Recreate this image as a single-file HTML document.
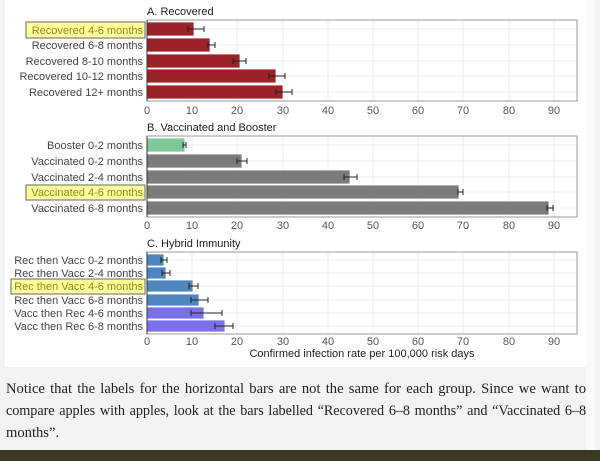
<!DOCTYPE html>
<html><head><style>
html,body{margin:0;padding:0;width:600px;height:461px;overflow:hidden;background:#f3f3f3;}
.t{font-family:"Liberation Serif",serif;font-size:14.6px;color:#222;position:absolute;left:6px;width:580px;line-height:22px;white-space:nowrap;}
.j{text-align:justify;text-align-last:justify;}
</style></head><body>
<svg width="600" height="461" style="position:absolute;left:0;top:0" font-family="Liberation Sans, sans-serif">
<rect x="5" y="0" width="581" height="367" fill="#fff"/>
<rect x="586" y="0" width="9" height="450" fill="#fafafa"/>
<rect x="0" y="450" width="600" height="11" fill="#3b3824"/>
<g font-size="11" fill="#222">
<text x="147" y="15">A. Recovered</text>
<text x="147" y="131">B. Vaccinated and Booster</text>
<text x="147" y="247">C. Hybrid Immunity</text>
</g>
<g stroke="#ececec">
<line x1="192" y1="20" x2="192" y2="101"/><line x1="237" y1="20" x2="237" y2="101"/><line x1="283" y1="20" x2="283" y2="101"/><line x1="328" y1="20" x2="328" y2="101"/><line x1="373" y1="20" x2="373" y2="101"/><line x1="418" y1="20" x2="418" y2="101"/><line x1="463" y1="20" x2="463" y2="101"/><line x1="509" y1="20" x2="509" y2="101"/><line x1="554" y1="20" x2="554" y2="101"/>
<line x1="192" y1="136" x2="192" y2="217"/><line x1="237" y1="136" x2="237" y2="217"/><line x1="283" y1="136" x2="283" y2="217"/><line x1="328" y1="136" x2="328" y2="217"/><line x1="373" y1="136" x2="373" y2="217"/><line x1="418" y1="136" x2="418" y2="217"/><line x1="463" y1="136" x2="463" y2="217"/><line x1="509" y1="136" x2="509" y2="217"/><line x1="554" y1="136" x2="554" y2="217"/>
<line x1="192" y1="252" x2="192" y2="334"/><line x1="237" y1="252" x2="237" y2="334"/><line x1="283" y1="252" x2="283" y2="334"/><line x1="328" y1="252" x2="328" y2="334"/><line x1="373" y1="252" x2="373" y2="334"/><line x1="418" y1="252" x2="418" y2="334"/><line x1="463" y1="252" x2="463" y2="334"/><line x1="509" y1="252" x2="509" y2="334"/><line x1="554" y1="252" x2="554" y2="334"/>
<line x1="147" y1="29" x2="577" y2="29"/><line x1="147" y1="45" x2="577" y2="45"/><line x1="147" y1="61" x2="577" y2="61"/><line x1="147" y1="76" x2="577" y2="76"/><line x1="147" y1="92" x2="577" y2="92"/>
<line x1="147" y1="145" x2="577" y2="145"/><line x1="147" y1="161" x2="577" y2="161"/><line x1="147" y1="177" x2="577" y2="177"/><line x1="147" y1="192" x2="577" y2="192"/><line x1="147" y1="208" x2="577" y2="208"/>
<line x1="147" y1="260" x2="577" y2="260"/><line x1="147" y1="273" x2="577" y2="273"/><line x1="147" y1="286" x2="577" y2="286"/><line x1="147" y1="300" x2="577" y2="300"/><line x1="147" y1="313" x2="577" y2="313"/><line x1="147" y1="326" x2="577" y2="326"/>
</g>
<g fill="#9b2226" stroke="#fff" stroke-width="0.8">
<rect x="147" y="22" width="47" height="14"/>
<rect x="147" y="38" width="63" height="14"/>
<rect x="147" y="54" width="93" height="14"/>
<rect x="147" y="69" width="129" height="14"/>
<rect x="147" y="85" width="136" height="14"/>
</g>
<g stroke="#fff" stroke-width="0.8">
<rect x="147" y="138" width="38" height="14" fill="#7dc99a"/>
<rect x="147" y="154" width="95" height="14" fill="#7b7b7b"/>
<rect x="147" y="170" width="203" height="14" fill="#7b7b7b"/>
<rect x="147" y="185" width="312" height="14" fill="#7b7b7b"/>
<rect x="147" y="201" width="402" height="14" fill="#7b7b7b"/>
</g>
<g stroke="#fff" stroke-width="0.8">
<rect x="147" y="254" width="17" height="12" fill="#4f86bf"/>
<rect x="147" y="267" width="19" height="12" fill="#4f86bf"/>
<rect x="147" y="280" width="46" height="12" fill="#4f86bf"/>
<rect x="147" y="294" width="52" height="12" fill="#4f86bf"/>
<rect x="147" y="307" width="57" height="12" fill="#7a70ec"/>
<rect x="147" y="320" width="78" height="12" fill="#7a70ec"/>
</g>
<g stroke="#222" stroke-width="1" fill="none">
<path d="M188 29H204M188 26V32M204 26V32"/>
<path d="M208 45H215M208 42V48M215 42V48"/>
<path d="M233 61H246M233 58V64M246 58V64"/>
<path d="M269 76H285M269 73V79M285 73V79"/>
<path d="M276 92H292M276 89V95M292 89V95"/>
<path d="M183 145H186M183 142V148M186 142V148"/>
<path d="M237 161H247M237 158V164M247 158V164"/>
<path d="M344 177H357M344 174V180M357 174V180"/>
<path d="M458 192H463M458 189V195M463 189V195"/>
<path d="M547 208H553M547 205V211M553 205V211"/>
<path d="M161 260H167M161 257V263M167 257V263"/>
<path d="M162 273H170M162 270V276M170 270V276"/>
<path d="M189 286H198M189 283V289M198 283V289"/>
<path d="M191 300H208M191 297V303M208 297V303"/>
<path d="M191 313H222M191 310V316M222 310V316"/>
<path d="M215 326H233M215 323V329M233 323V329"/>
</g>
<g fill="none" stroke="#999" stroke-width="1">
<rect x="147" y="20" width="430" height="81"/>
<rect x="147" y="136" width="430" height="81"/>
<rect x="147" y="252" width="430" height="82"/>
</g>
<g stroke="#333" stroke-width="1"><line x1="147" y1="20" x2="147" y2="101"/><line x1="147" y1="136" x2="147" y2="217"/><line x1="147" y1="252" x2="147" y2="334"/></g>
<g fill="#ffff99" stroke="#666" stroke-width="1">
<rect x="26" y="22" width="119" height="16"/>
<rect x="26" y="185" width="119" height="15"/>
<rect x="11" y="279" width="134" height="15"/>
</g>
<g font-size="11" fill="#444" text-anchor="end">
<text x="143" y="34" fill="#8a8a2a">Recovered 4-6 months</text>
<text x="143" y="49">Recovered 6-8 months</text>
<text x="143" y="65">Recovered 8-10 months</text>
<text x="143" y="80">Recovered 10-12 months</text>
<text x="143" y="96">Recovered 12+ months</text>
<text x="143" y="149">Booster 0-2 months</text>
<text x="143" y="165">Vaccinated 0-2 months</text>
<text x="143" y="181">Vaccinated 2-4 months</text>
<text x="143" y="196" fill="#8a8a2a">Vaccinated 4-6 months</text>
<text x="143" y="212">Vaccinated 6-8 months</text>
<text x="143" y="264">Rec then Vacc 0-2 months</text>
<text x="143" y="277">Rec then Vacc 2-4 months</text>
<text x="143" y="290" fill="#8a8a2a">Rec then Vacc 4-6 months</text>
<text x="143" y="304">Rec then Vacc 6-8 months</text>
<text x="143" y="317">Vacc then Rec 4-6 months</text>
<text x="143" y="330">Vacc then Rec 6-8 months</text>
</g>
<g font-size="11" fill="#555" text-anchor="middle">
<text x="147" y="114">0</text><text x="192" y="114">10</text><text x="237" y="114">20</text><text x="283" y="114">30</text><text x="328" y="114">40</text><text x="373" y="114">50</text><text x="418" y="114">60</text><text x="463" y="114">70</text><text x="509" y="114">80</text><text x="554" y="114">90</text>
<text x="147" y="229">0</text><text x="192" y="229">10</text><text x="237" y="229">20</text><text x="283" y="229">30</text><text x="328" y="229">40</text><text x="373" y="229">50</text><text x="418" y="229">60</text><text x="463" y="229">70</text><text x="509" y="229">80</text><text x="554" y="229">90</text>
<text x="147" y="345">0</text><text x="192" y="345">10</text><text x="237" y="345">20</text><text x="283" y="345">30</text><text x="328" y="345">40</text><text x="373" y="345">50</text><text x="418" y="345">60</text><text x="463" y="345">70</text><text x="509" y="345">80</text><text x="554" y="345">90</text>
<text x="362" y="357" fill="#222">Confirmed infection rate per 100,000 risk days</text>
</g>
</svg>
<div class="t j" style="top:378px">Notice that the labels for the horizontal bars are not the same for each group. Since we want to</div>
<div class="t j" style="top:400px;font-size:14.2px;letter-spacing:-0.05px">compare apples with apples, look at the bars labelled “Recovered 6–8 months” and “Vaccinated 6–8</div>
<div class="t" style="top:422px">months”.</div>
</body></html>
